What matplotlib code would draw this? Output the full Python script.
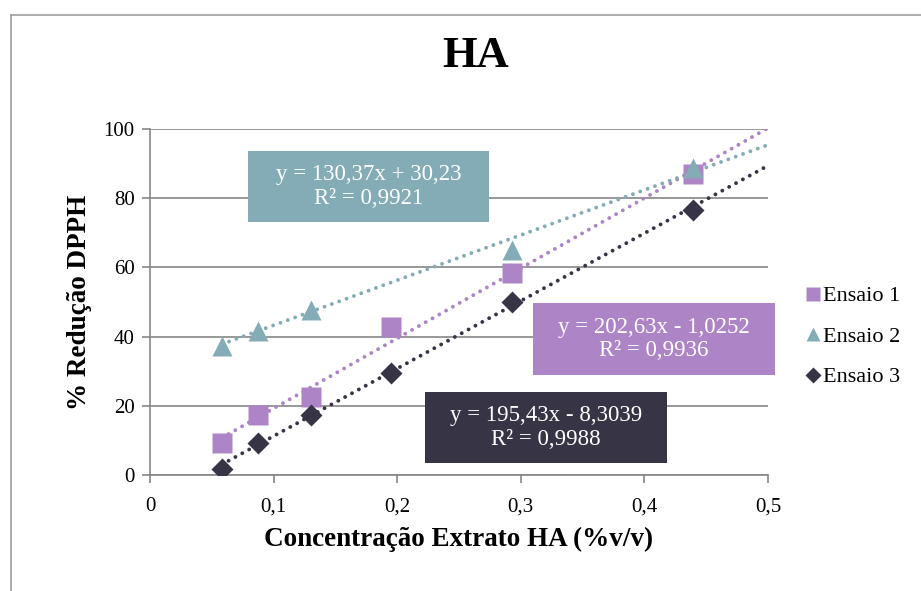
import matplotlib.pyplot as plt
import numpy as np
from matplotlib.lines import Line2D
from matplotlib.patches import Rectangle

# concentrations (%v/v) and % reduction for each run
x1 = [0.058, 0.087, 0.130, 0.195, 0.293, 0.439]
y1 = [9.3, 17.2, 22.5, 42.8, 58.3, 87.0]
x2 = [0.058, 0.087, 0.130, 0.293, 0.439]
y2 = [37.4, 41.5, 47.8, 65.0, 88.8]
x3 = [0.058, 0.087, 0.130, 0.195, 0.293, 0.439]
y3 = [1.8, 9.2, 17.3, 29.5, 50.0, 76.6]

names = ["Ensaio 1", "Ensaio 2", "Ensaio 3"]
eqs = ["y = 202,63x - 1,0252\nR² = 0,9936",
       "y = 130,37x + 30,23\nR² = 0,9921",
       "y = 195,43x - 8,3039\nR² = 0,9988"]
slopes = [202.63, 130.37, 195.43]
inters = [-1.0252, 30.23, -8.3039]

cols = ["#AD84C6", "#84ACB6", "#373545"]
marks = ["s", "^", "D"]
msz = [14.5, 14.5, 11]

plt.rcParams['font.family'] = ['Liberation Serif', 'DejaVu Serif']

fig = plt.figure(figsize=(9.21, 5.91), dpi=100)
ax = fig.add_axes([150/921, 116/591, 618/921, 346/591])

xs = [x1, x2, x3]
ys = [y1, y2, y3]
for i in range(3):
    xl = np.array([min(xs[i]), 0.5])
    ax.plot(xl, slopes[i]*xl + inters[i], linestyle=(0, (0.01, 2.0)), color=cols[i],
            lw=2.8, dash_capstyle='round', zorder=2)
for i in range(3):
    ax.plot(xs[i], ys[i], marks[i], color=cols[i], ms=msz[i], mec='none',
            label=names[i], zorder=3)

# equation boxes (left, top, width, height in pixels)
boxes = [(533, 303, 242, 72), (248, 151, 241, 71), (425, 392, 242, 71)]
for i in range(3):
    l, t, w, h = boxes[i]
    fig.add_artist(Rectangle((l/921, 1 - (t + h)/591), w/921, h/591,
                             transform=fig.transFigure, fc=cols[i], ec='none', zorder=5))
    fig.text((l + w/2)/921, 1 - (t + h/2)/591, eqs[i], color='white', fontsize=16.5,
             ha='center', va='center', linespacing=1.15, zorder=6)

ax.set_xlim(0, 0.5)
ax.set_ylim(0, 100)
ax.set_xticks(np.arange(0, 0.51, 0.1))
ax.set_xticklabels(["0", "0,1", "0,2", "0,3", "0,4", "0,5"])
ax.set_yticks(range(0, 101, 20))
ax.yaxis.grid(True, color="#868686", lw=1.2)
ax.set_axisbelow(True)
for s in ["top", "right"]:
    ax.spines[s].set_visible(False)
for s in ["left", "bottom"]:
    ax.spines[s].set_color("#868686")
    ax.spines[s].set_linewidth(1.2)
ax.tick_params(axis='both', colors="#868686", labelcolor='black', labelsize=15,
               length=6, width=1.2, direction='out')
ax.tick_params(axis='x', pad=10)
ax.tick_params(axis='y', pad=5)

ax.set_xlabel("Concentração Extrato HA (%v/v)", fontsize=19.5, fontweight='bold', labelpad=8)
ax.set_ylabel("% Redução DPPH", fontsize=19.5, fontweight='bold', labelpad=8)
fig.text(0.516, 0.905, "HA", fontsize=32, fontweight='bold', ha='center', va='center')

ax.legend(loc='center left', bbox_to_anchor=(1.03, 0.4), frameon=False, fontsize=16,
          handlelength=0.6, handletextpad=0.15, labelspacing=0.9, markerscale=0.7)

# outer frame (left and top edges)
fig.add_artist(Line2D([11/921, 11/921], [0, 1 - 15/591], color="#a0a0a0", lw=1.2))
fig.add_artist(Line2D([11/921, 1], [1 - 15/591, 1 - 15/591], color="#a0a0a0", lw=1.2))

fig.savefig("out.png", dpi=100)
